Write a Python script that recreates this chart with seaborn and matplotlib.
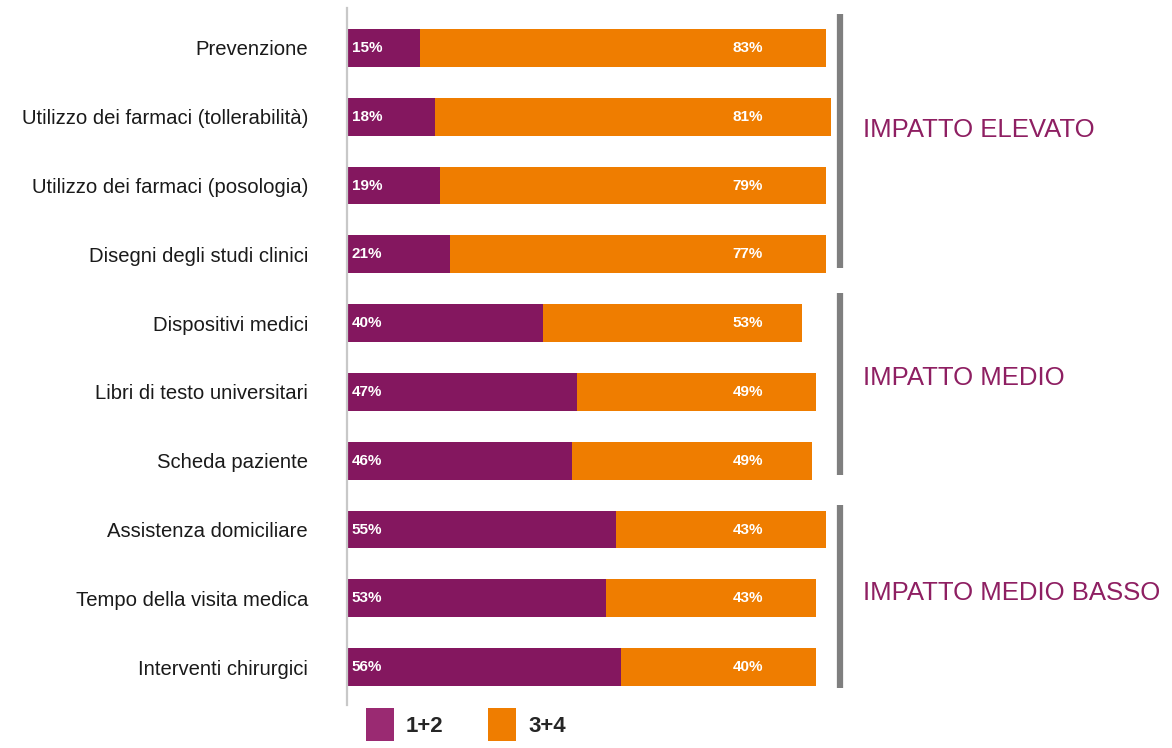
import matplotlib
matplotlib.use("Agg")
import matplotlib.pyplot as plt
import seaborn as sns
import pandas as pd
from matplotlib.patches import Patch

categories = ["Prevenzione", "Utilizzo dei farmaci (tollerabilità)", "Utilizzo dei farmaci (posologia)",
              "Disegni degli studi clinici", "Dispositivi medici", "Libri di testo universitari",
              "Scheda paziente", "Assistenza domiciliare", "Tempo della visita medica",
              "Interventi chirurgici"]
low_vals = [15, 18, 19, 21, 40, 47, 46, 55, 53, 56]   # 1+2
high_vals = [83, 81, 79, 77, 53, 49, 49, 43, 43, 40]  # 3+4
series_names = ["1+2", "3+4"]
groups = ["IMPATTO ELEVATO", "IMPATTO MEDIO", "IMPATTO MEDIO BASSO"]

PURPLE = "#84175F"
ORANGE = "#EF7D00"
TEXT_PURPLE = "#8E1F62"

sns.set_style("white")
fam = ["Liberation Sans", "DejaVu Sans"]
plt.rcParams["font.family"] = fam

df = pd.DataFrame({"cat": categories, "low": low_vals, "high": high_vals})
df["total"] = df["low"] + df["high"]

fig = plt.figure(figsize=(11.72, 7.48), dpi=100)
ax = fig.add_axes([347 / 1172, 1 - 705 / 748, (836 - 347) / 1172, (705 - 8) / 748])

sns.barplot(data=df, x="total", y="cat", color=ORANGE, width=0.55, ax=ax,
            saturation=1, orient="h", linewidth=0)
sns.barplot(data=df, x="low", y="cat", color=PURPLE, width=0.55, ax=ax,
            saturation=1, orient="h", linewidth=0)

ax.set_xlim(0, 100)
ax.set_ylim(9.55, -0.58)
ax.set_xlabel("")
ax.set_ylabel("")
ax.set_xticks([])
for s in ["top", "right", "bottom"]:
    ax.spines[s].set_visible(False)
ax.spines["left"].set_color("#C8C8C8")
ax.spines["left"].set_linewidth(1.6)
ax.tick_params(axis="y", length=0, pad=28)
for lab in ax.get_yticklabels():
    lab.set_fontsize(14.6)
    lab.set_color("#1a1a1a")

for i, (lo, hi) in enumerate(zip(low_vals, high_vals)):
    ax.text(1.0, i, f"{lo}%", color="white", fontsize=11, fontweight="bold",
            va="center", ha="left")
    ax.text(82, i, f"{hi}%", color="white", fontsize=11, fontweight="bold",
            va="center", ha="center")

line_spans = [(-0.49, 3.2), (3.56, 6.2), (6.64, 9.3)]
text_y = [1.2, 4.8, 7.92]
for (y0, y1), ty, g in zip(line_spans, text_y, groups):
    ax.plot([100.8, 100.8], [y0, y1], color="#7F7F7F", lw=4.5, clip_on=False,
            solid_capstyle="butt")
    ax.text(105.5, ty, g, color=TEXT_PURPLE, fontsize=18.5, va="center", ha="left",
            family=fam, clip_on=False)

handles = [Patch(facecolor="#9A2A72", edgecolor="none"), Patch(facecolor=ORANGE, edgecolor="none")]
fig.legend(handles, series_names, loc="lower left", bbox_to_anchor=(366 / 1172, 0.009),
           ncol=2, frameon=False, handlelength=1.25, handleheight=1.9, handletextpad=0.55,
           columnspacing=2.0, borderpad=0, borderaxespad=0,
           prop={"family": fam, "size": 16, "weight": "bold"})

fig.savefig("out.png", dpi=100)
